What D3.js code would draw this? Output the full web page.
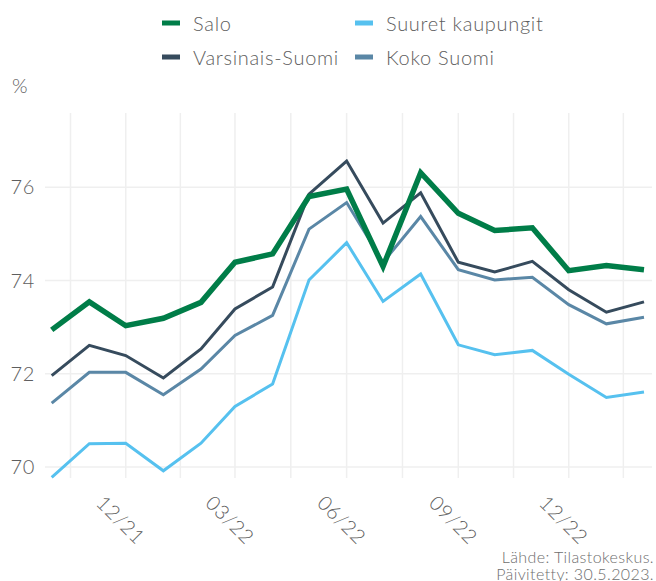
<html>
<head>
    <script src="https://d3js.org/d3.v7.min.js"></script>
    <style>
        body { margin: 0; background: #fff; }
        text { font-family: Lato, "Open Sans", sans-serif; font-weight: 300; fill: #5e5e5e; letter-spacing: 0.7px; }
    </style>
</head>
<body>
    <svg id="chart" width="656" height="581"></svg>
    <script>
        // months, Oct 2021 .. Feb 2023
        var months = ["2021-10", "2021-11", "2021-12", "2022-01", "2022-02", "2022-03", "2022-04", "2022-05",
            "2022-06", "2022-07", "2022-08", "2022-09", "2022-10", "2022-11", "2022-12", "2023-01", "2023-02"];

        var salo = [72.94, 73.54, 73.03, 73.19, 73.53, 74.39, 74.57, 75.80, 75.96, 74.30, 76.31, 75.44, 75.07, 75.13, 74.21, 74.32, 74.23];
        var varsinais = [71.96, 72.61, 72.39, 71.91, 72.53, 73.39, 73.86, 75.85, 76.56, 75.23, 75.88, 74.39, 74.18, 74.41, 73.80, 73.32, 73.54];
        var koko = [71.37, 72.03, 72.03, 71.55, 72.10, 72.82, 73.25, 75.10, 75.67, 74.39, 75.37, 74.23, 74.01, 74.07, 73.48, 73.07, 73.21];
        var suuret = [69.78, 70.50, 70.51, 69.92, 70.51, 71.30, 71.78, 74.01, 74.81, 73.55, 74.14, 72.62, 72.41, 72.50, 71.99, 71.49, 71.61];

        var yTicks = [70, 72, 74, 76];
        var xTickLabels = ["12/21", "03/22", "06/22", "09/22", "12/22"];

        var series = [
            { name: "Suuret kaupungit", values: suuret, color: "#56c1ef", width: 3 },
            { name: "Koko Suomi", values: koko, color: "#5a87a6", width: 3 },
            { name: "Varsinais-Suomi", values: varsinais, color: "#364b5d", width: 3 },
            { name: "Salo", values: salo, color: "#007d48", width: 5.5 }
        ];

        var parse = d3.timeParse("%Y-%m");
        var dates = months.map(parse);

        var svg = d3.select("#chart");
        var panel = { left: 45, right: 652, top: 113, bottom: 478 };

        var x = d3.scaleTime()
            .domain([dates[0], dates[dates.length - 1]])
            .range([51.7, 644]);

        var y = d3.scaleLinear()
            .domain([69.765, 77.59])
            .range([panel.bottom, panel.top]);

        // grid: major every 3 months (Sep, Dec, Mar, Jun), minor in between
        var majors = d3.timeMonth.range(new Date(2021, 8, 1), new Date(2023, 3, 1), 3);
        var minors = [];
        for (var i = 0; i < majors.length - 1; i++) {
            minors.push((x(majors[i]) + x(majors[i + 1])) / 2);
        }
        var majorX = majors.map(x).filter(function (v) { return v > panel.left && v < panel.right; });
        minors = minors.filter(function (v) { return v > panel.left && v < panel.right; });

        var grid = svg.append("g");
        grid.selectAll(".vgrid")
            .data(majorX.concat(minors))
            .enter().append("line")
            .attr("x1", function (d) { return d; })
            .attr("x2", function (d) { return d; })
            .attr("y1", panel.top)
            .attr("y2", panel.bottom)
            .attr("stroke", "#efefef")
            .attr("stroke-width", 1.5);

        grid.selectAll(".hgrid")
            .data(yTicks)
            .enter().append("line")
            .attr("x1", panel.left)
            .attr("x2", panel.right)
            .attr("y1", function (d) { return y(d); })
            .attr("y2", function (d) { return y(d); })
            .attr("stroke", "#efefef")
            .attr("stroke-width", 1.5);

        // y labels
        svg.append("g").selectAll("text")
            .data(yTicks)
            .enter().append("text")
            .attr("x", 35)
            .attr("y", function (d) { return y(d); })
            .attr("dy", "0.36em")
            .attr("text-anchor", "end")
            .style("font-size", "20px")
            .text(function (d) { return d; });

        svg.append("text")
            .attr("x", 12)
            .attr("y", 93)
            .style("font-size", "20px")
            .text("%");

        // x labels
        svg.append("g").selectAll("text")
            .data(majorX)
            .enter().append("text")
            .attr("transform", function (d) { return "translate(" + (d - 5) + ",520) rotate(45)"; })
            .attr("text-anchor", "middle")
            .attr("dy", "0.35em")
            .style("font-size", "20px")
            .text(function (d, i) { return xTickLabels[i]; });

        // lines
        var line = d3.line()
            .x(function (d, i) { return x(dates[i]); })
            .y(function (d) { return y(d); });

        svg.append("g").selectAll("path")
            .data(series)
            .enter().append("path")
            .attr("d", function (s) { return line(s.values); })
            .attr("fill", "none")
            .attr("stroke", function (s) { return s.color; })
            .attr("stroke-width", function (s) { return s.width; })
            .attr("stroke-linejoin", "miter");

        // legend
        var legendItems = [
            { name: "Salo", color: "#007d48", x: 162, y: 23 },
            { name: "Varsinais-Suomi", color: "#364b5d", x: 162, y: 57 },
            { name: "Suuret kaupungit", color: "#56c1ef", x: 355, y: 23 },
            { name: "Koko Suomi", color: "#5a87a6", x: 355, y: 57 }
        ];
        var lg = svg.append("g").selectAll("g")
            .data(legendItems)
            .enter().append("g")
            .attr("transform", function (d) { return "translate(" + d.x + "," + d.y + ")"; });
        lg.append("rect")
            .attr("x", 0).attr("y", -2.5)
            .attr("width", 18).attr("height", 5)
            .attr("fill", function (d) { return d.color; });
        lg.append("text")
            .attr("x", 31)
            .attr("y", 7.5)
            .style("font-size", "20px")
            .text(function (d) { return d.name; });

        // source
        svg.append("text")
            .attr("x", 654).attr("y", 563)
            .attr("text-anchor", "end")
            .style("font-size", "16px")
            .style("fill", "#6e6e6e")
            .style("letter-spacing", "0.4px")
            .text("Lähde: Tilastokeskus.");
        svg.append("text")
            .attr("x", 654).attr("y", 580)
            .attr("text-anchor", "end")
            .style("font-size", "16px")
            .style("fill", "#6e6e6e")
            .style("letter-spacing", "0.4px")
            .text("Päivitetty: 30.5.2023.");
    </script>
</body>
</html>
